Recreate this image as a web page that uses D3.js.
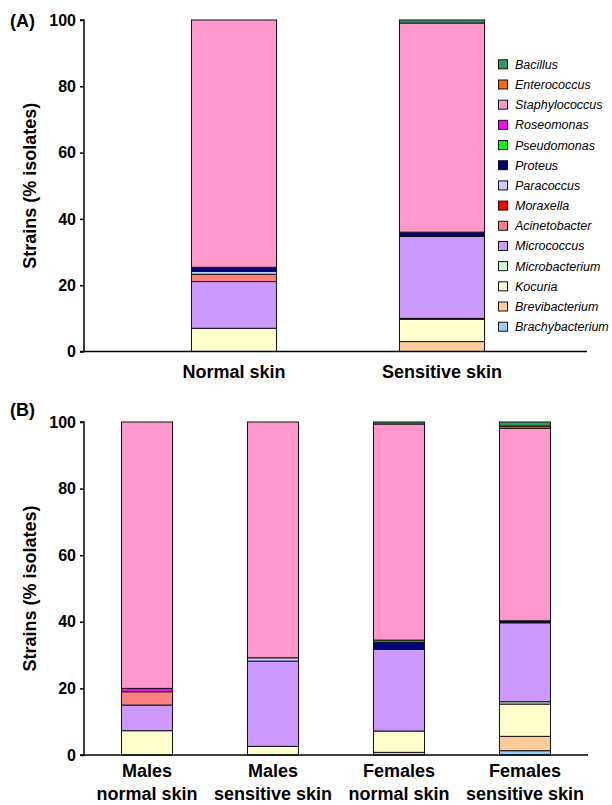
<!DOCTYPE html>
<html><head><meta charset="utf-8">
<script src="https://cdn.jsdelivr.net/npm/d3@7/dist/d3.min.js"></script>
<style>body{margin:0;background:#fff}svg{display:block}</style>
</head><body>
<svg id="c" width="612" height="805"></svg>
<script>
// Genera, bottom of stack first
const genera = ["Brachybacterium","Brevibacterium","Kocuria","Microbacterium","Micrococcus","Acinetobacter","Moraxella","Paracoccus","Proteus","Pseudomonas","Roseomonas","Staphylococcus","Enterococcus","Bacillus"];
const colors = ["#99CCFF","#FFCC99","#FFFFCC","#CCFFCC","#CC99FF","#FF8080","#FF0000","#CCCCFF","#000080","#00FF00","#FF00FF","#FF99CC","#FF6600","#339966"];

// Panel A
const catsA = ["Normal skin","Sensitive skin"];
const normalSkin    = [0,0,7.0,0,14.1,2.2,0,0.9,1.2,0,0,74.6,0,0];
const sensitiveSkin = [0,3.0,6.7,0.3,24.7,0,0,0,1.3,0,0,63.1,0,0.9];

// Panel B
const catsB = [["Males","normal skin"],["Males","sensitive skin"],["Females","normal skin"],["Females","sensitive skin"]];
const malesNormal      = [0,0,7.3,0,7.7,4.0,0,0,0,0,1.0,80.0,0,0];
const malesSensitive   = [0,0,2.6,0,25.6,0,0,1.0,0,0,0,70.8,0,0];
const femalesNormal    = [0,0.8,6.4,0,24.5,0,0,0,2.2,0.6,0,64.9,0,0.6];
const femalesSensitive = [1.3,4.3,9.7,0.7,23.7,0,0,0,0.6,0,0,57.8,0.7,1.2];
const yTicks = [0,20,40,60,80,100];

const svg = d3.select("#c");
const font = "Liberation Sans, Arial, sans-serif";

function panel(opts){
  const g = svg.append("g");
  const y = d3.scaleLinear().domain([0,100]).range([opts.y0, opts.y100]);
  const x = d3.scaleBand().domain(opts.cats.map((c,i)=>i)).range(opts.xr)
    .paddingInner(opts.pi).paddingOuter(opts.po);
  const rows = opts.data.map(arr => { const o={}; genera.forEach((g,i)=>o[g]=arr[i]); return o; });
  const stack = d3.stack().keys(genera)(rows);
  stack.forEach((layer,li)=>{
    g.append("g").selectAll("rect").data(layer.map((d,i)=>({d,i})).filter(e=>e.d[1]-e.d[0]>0))
      .join("rect")
      .attr("x",e=>x(e.i)).attr("width",x.bandwidth())
      .attr("y",e=>y(e.d[1])).attr("height",e=>y(e.d[0])-y(e.d[1]))
      .attr("fill",colors[li]).attr("stroke","#111").attr("stroke-width",1);
  });
  // y axis
  const ya = g.append("g").attr("transform",`translate(${opts.ax},0)`)
    .call(d3.axisLeft(y).tickValues(yTicks).tickSize(4).tickPadding(4));
  ya.select(".domain").attr("stroke","#000").attr("stroke-width",1.5).attr("d",`M-4,${y(100)}H0V${y(0)}H-4`);
  ya.selectAll(".tick line").attr("stroke","#000").attr("stroke-width",1.5);
  ya.selectAll("text").attr("font-family",font).attr("font-weight","bold").attr("font-size",16).attr("fill","#000");
  // x axis line
  g.append("line").attr("x1",opts.ax).attr("x2",opts.axEnd).attr("y1",y(0)).attr("y2",y(0))
    .attr("stroke","#000").attr("stroke-width",1.5);
  // x labels
  opts.cats.forEach((c,i)=>{
    const lines = Array.isArray(c)?c:[c];
    lines.forEach((t,j)=>{
      g.append("text").attr("x",x(i)+x.bandwidth()/2).attr("y",y(0)+opts.lab0+j*opts.labStep)
        .attr("text-anchor","middle").attr("font-family",font).attr("font-weight","bold")
        .attr("font-size",18).text(t);
    });
  });
  // y title
  g.append("text").attr("transform",`translate(${opts.titleX},${(y(0)+y(100))/2}) rotate(-90)`)
    .attr("text-anchor","middle").attr("font-family",font).attr("font-weight","bold")
    .attr("font-size",18).text("Strains (% isolates)");
  g.append("text").attr("x",10).attr("y",opts.panelY).attr("font-family",font)
    .attr("font-weight","bold").attr("font-size",18).text(opts.panel);
}

panel({cats:catsA,data:[normalSkin,sensitiveSkin],y0:351.5,y100:20,xr:[130,546],pi:0.591,po:0.2955,
  ax:84,axEnd:587,lab0:26,labStep:22,titleX:36,panel:"(A)",panelY:27});
panel({cats:catsB,data:[malesNormal,malesSensitive,femalesNormal,femalesSensitive],y0:755,y100:422,xr:[84,588],pi:0.595,po:0.2976,
  ax:84,axEnd:588,lab0:22,labStep:23,titleX:36,panel:"(B)",panelY:416});

// legend (top to bottom = reverse of stack)
const leg = svg.append("g");
const legItems = genera.map((g,i)=>({g,c:colors[i]})).reverse();
const ly = d3.scalePoint().domain(legItems.map(d=>d.g)).range([64.3,326.7]);
legItems.forEach(d=>{
  leg.append("rect").attr("x",498.5).attr("y",ly(d.g)-4.5).attr("width",9).attr("height",9)
    .attr("fill",d.c).attr("stroke","#111").attr("stroke-width",1);
  leg.append("text").attr("x",515).attr("y",ly(d.g)+4.5).attr("font-family",font)
    .attr("font-style","italic").attr("font-size",12.5).text(d.g);
});
</script>
</body></html>
